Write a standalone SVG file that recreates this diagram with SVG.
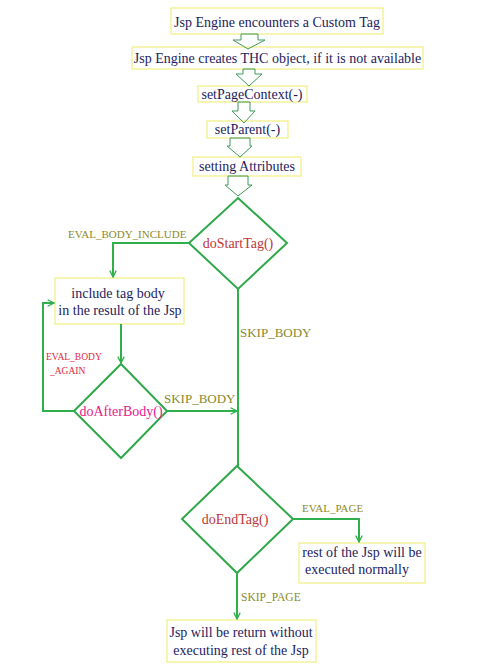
<svg xmlns="http://www.w3.org/2000/svg" width="481" height="666" viewBox="0 0 481 666">
<defs>
<style>
.box{fill:#ffffff;stroke:#f2f08a;stroke-width:1.3}
.t{font-family:"Liberation Serif","Times New Roman",serif;font-size:14px;fill:#1c1c5e;text-anchor:middle}
.dia{fill:#ffffff;stroke:#2fa84a;stroke-width:2}
.dt{font-family:"Liberation Serif","Times New Roman",serif;font-size:14px;fill:#c0363a;text-anchor:middle}
.ln{fill:none;stroke:#2fb04c;stroke-width:2}
.blk{fill:none;stroke:#3f9a5a;stroke-width:1}
.lbl{font-family:"Liberation Serif","Times New Roman",serif;fill:#8a8a2a}
</style>
<marker id="ah" viewBox="0 0 10 10" refX="9" refY="5" markerWidth="8" markerHeight="8" markerUnits="userSpaceOnUse" orient="auto">
<path d="M1,1 L9,5 L1,9" fill="none" stroke="#2fb04c" stroke-width="1.6"/>
</marker>
</defs>
<rect width="481" height="666" fill="#ffffff"/>

<g id="n1"><rect class="box" x="171" y="8" width="212" height="26"/><text class="t" x="277" y="27">Jsp Engine encounters a Custom Tag</text></g>
<g id="n2"><rect class="box" x="132" y="47" width="291" height="22"/><text class="t" x="277.5" y="63">Jsp Engine creates THC object, if it is not available</text></g>
<g id="n3"><rect class="box" x="198" y="86" width="109" height="16"/><text class="t" x="252" y="99">setPageContext(-)</text></g>
<g id="n4"><rect class="box" x="207" y="121" width="81" height="17"/><text class="t" x="247.5" y="134">setParent(-)</text></g>
<g id="n5"><rect class="box" x="193" y="157" width="108" height="19"/><text class="t" x="247" y="171">setting Attributes</text></g>

<g id="n6"><polygon class="dia" points="238,198 287,243 238,289 189,243"/><text class="dt" x="238" y="248">doStartTag()</text></g>
<g id="n7"><rect class="box" x="55" y="278" width="129" height="46"/><text class="t" x="118" y="298">include tag body</text><text class="t" x="120" y="315">in the result of the Jsp</text></g>
<g id="n8"><polygon class="dia" points="121,364 167,411 121,458 74,411"/><text class="dt" x="121" y="416" style="fill:#e8198a">doAfterBody()</text></g>
<g id="n9"><polygon class="dia" points="237,466 293,519 237,573 182,519"/><text class="dt" x="235" y="524">doEndTag()</text></g>
<g id="n10"><rect class="box" x="299" y="543" width="126" height="40"/><text class="t" x="362" y="557">rest of the Jsp will be</text><text class="t" x="357" y="574">executed normally</text></g>
<g id="n11"><rect class="box" x="167" y="620" width="149" height="42"/><text class="t" x="241" y="637">Jsp will be return without</text><text class="t" x="241" y="655">executing rest of the Jsp</text></g>

<g id="connectors">
<polygon class="blk" points="241,34 258,34 258,40 265,40 248,49 233,40 241,40"/>
<polygon class="blk" points="243,69 255,69 255,74 262,74 249,86 236,74 243,74"/>
<polygon class="blk" points="238,102 250,102 250,111 255,111 244,123 232,111 238,111"/>
<polygon class="blk" points="230,138 250,138 250,146 252,146 240,157 227,146 230,146"/>
<polygon class="blk" points="228,176 248,176 248,185 252,185 238,196 225,185 228,185"/>

<polyline class="ln" points="189,243 113,243 113,277" marker-end="url(#ah)"/>
<polyline class="ln" points="121,324 121,363" marker-end="url(#ah)"/>
<polyline class="ln" points="74,411 43,411 43,303 54,303" marker-end="url(#ah)"/>
<polyline class="ln" points="167,411 237,411" marker-end="url(#ah)"/>
<polyline class="ln" points="238,289 238,466"/>
<polyline class="ln" points="293,519 359,519 359,542" marker-end="url(#ah)"/>
<polyline class="ln" points="237,573 237,619" marker-end="url(#ah)"/>

<text class="lbl" x="68" y="238" font-size="11">EVAL_BODY_INCLUDE</text>
<text class="lbl" x="240" y="337" font-size="13">SKIP_BODY</text>
<text class="lbl" x="164" y="403" font-size="13">SKIP_BODY</text>
<text class="lbl" x="46" y="360" font-size="9.5" style="fill:#e0283c">EVAL_BODY</text>
<text class="lbl" x="50" y="374" font-size="9.5" style="fill:#e0283c">_AGAIN</text>
<text class="lbl" x="302" y="512" font-size="11">EVAL_PAGE</text>
<text class="lbl" x="241" y="601" font-size="11.5">SKIP_PAGE</text>
</g>
</svg>
